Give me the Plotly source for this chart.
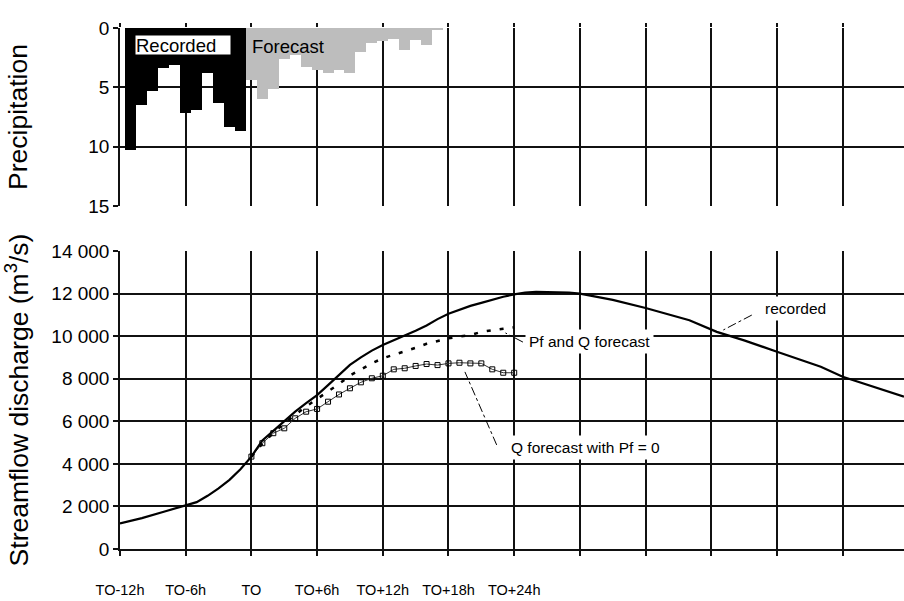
import plotly.graph_objects as go
from plotly.subplots import make_subplots

# ---------------- data ----------------
# precipitation (hours relative to T0, mm)
rec_p_hours = [-11, -10, -9, -8, -7, -6, -5, -4, -3, -2, -1]
rec_p_vals = [10.3, 6.5, 5.3, 3.4, 3.1, 7.2, 6.9, 3.8, 6.3, 8.3, 8.7]
fc_p_hours = list(range(0, 18))
fc_p_vals = [4.4, 6.0, 5.1, 2.6, 2.3, 3.3, 3.5, 3.8, 3.5, 3.8, 2.0, 1.3, 1.1, 0.9, 1.85, 1.0, 1.4, 0.1]

# streamflow (m3/s)
rec_q_hours = [-12, -10, -8, -6, -5, -4, -3, -2, -1, 0, 1, 2, 3, 4, 5, 6, 7, 8, 9, 10,
               11, 12, 13, 14, 15, 16, 17, 18, 19, 20, 21, 22, 23, 24, 25, 26, 28, 29,
               30, 33, 36, 40, 42.5, 45, 48, 52, 54, 57, 59.6]
rec_q_vals = [1200, 1450, 1750, 2070, 2200, 2500, 2850, 3250, 3750, 4340, 5100, 5550, 6000,
              6450, 6850, 7230, 7700, 8170, 8650, 9000, 9320, 9580, 9800, 10000, 10250,
              10500, 10800, 11050, 11250, 11420, 11560, 11720, 11850, 11960, 12050, 12080,
              12080, 12050, 12000, 11700, 11320, 10750, 10200, 9800, 9270, 8560, 8090,
              7600, 7160]

pf_hours = list(range(0, 25))
pf_vals = [4340, 4950, 5450, 5900, 6300, 6700, 7050, 7400, 7750, 8150, 8450, 8720, 8960,
           9120, 9280, 9450, 9640, 9780, 9900, 9980, 10050, 10200, 10290, 10350, 10410]

q0_hours = list(range(0, 25))
q0_vals = [4340, 4970, 5440, 5670, 6140, 6450, 6580, 6920, 7260, 7550, 7830, 8020, 8140,
           8440, 8490, 8600, 8690, 8640, 8720, 8750, 8720, 8720, 8440, 8280, 8280]

x_label_vals = [-12, -6, 0, 6, 12, 18, 24]
x_label_text = ["TO-12h", "TO-6h", "TO", "TO+6h", "TO+12h", "TO+18h", "TO+24h"]
x_extra_grid = [30, 36, 42, 48, 54]
x_all_grid = x_label_vals + x_extra_grid
q_tick_vals = [0, 2000, 4000, 6000, 8000, 10000, 12000, 14000]
q_tick_text = ["0", "2 000", "4 000", "6 000", "8 000", "10 000", "12 000", "14 000"]
p_tick_vals = [0, 5, 10, 15]

# ---------------- figure ----------------
FONT = "Liberation Sans, Arial, sans-serif"
GRID = "#111111"
GW = 1.5

fig = make_subplots(rows=2, cols=1, shared_xaxes=False, vertical_spacing=0.0)

fig.add_trace(go.Bar(x=rec_p_hours, y=rec_p_vals, width=1, marker=dict(color="black", line=dict(width=0)),
                     showlegend=False), row=1, col=1)
fig.add_trace(go.Bar(x=fc_p_hours, y=fc_p_vals, width=1, marker=dict(color="#bdbdbd", line=dict(width=0)),
                     showlegend=False), row=1, col=1)

fig.add_trace(go.Scatter(x=q0_hours, y=q0_vals, mode="lines+markers",
                         line=dict(color="#333333", width=1),
                         marker=dict(symbol="square-open", size=5, color="black", line=dict(width=1)),
                         showlegend=False), row=2, col=1)
fig.add_trace(go.Scatter(x=pf_hours, y=pf_vals, mode="lines",
                         line=dict(color="black", width=2.5, dash="4px,9px"),
                         showlegend=False), row=2, col=1)
fig.add_trace(go.Scatter(x=rec_q_hours, y=rec_q_vals, mode="lines",
                         line=dict(color="black", width=2.2),
                         showlegend=False), row=2, col=1)

XR = [-12, 59.6]
fig.update_layout(
    width=904, height=601, autosize=False,
    margin=dict(l=120, r=0, t=28, b=52),
    paper_bgcolor="white", plot_bgcolor="white",
    bargap=0, barmode="overlay",
    xaxis=dict(domain=[0, 1], range=XR, side="top", tickvals=x_all_grid, showticklabels=False,
               ticks="outside", ticklen=4, tickcolor=GRID, tickwidth=GW, showgrid=True, gridcolor=GRID,
               gridwidth=GW, zeroline=False, showline=False, anchor="y"),
    yaxis=dict(domain=[0.6583, 1.0], range=[15, 0], tickvals=p_tick_vals, ticks="outside", ticklen=5,
               tickcolor=GRID, tickwidth=GW, showgrid=True, gridcolor=GRID, gridwidth=GW, zeroline=False,
               showline=True, linecolor=GRID, linewidth=GW,
               tickfont=dict(family=FONT, size=19, color="black"),
               title=dict(text="Precipitation", font=dict(family=FONT, size=26.5, color="black"), standoff=53),
               automargin=False, anchor="x"),
    xaxis2=dict(domain=[0, 1], range=XR, tickvals=x_label_vals, ticktext=x_label_text, tickangle=0,
                ticks="outside", ticklen=5, tickcolor=GRID, tickwidth=GW, showgrid=True, gridcolor=GRID,
                gridwidth=GW,
                minor=dict(tickvals=x_extra_grid, ticks="outside", ticklen=5, tickcolor=GRID, tickwidth=GW,
                           showgrid=True, gridcolor=GRID, gridwidth=GW),
                zeroline=False, showline=True, linecolor=GRID, linewidth=GW,
                tickfont=dict(family=FONT, size=14.5, color="black"), ticklabelstandoff=22,
                automargin=False, anchor="y2"),
    yaxis2=dict(domain=[0, 0.5720], range=[0, 14000], tickvals=q_tick_vals, ticktext=q_tick_text,
                ticks="outside", ticklen=5, tickcolor=GRID, tickwidth=GW, showgrid=True, gridcolor=GRID,
                gridwidth=GW, zeroline=False, showline=True, linecolor=GRID, linewidth=GW,
                tickfont=dict(family=FONT, size=19, color="black"),
                title=dict(text="Streamflow discharge (m<sup>3</sup>/s)",
                           font=dict(family=FONT, size=26.5, color="black"), standoff=17),
                automargin=False, anchor="x2"),
)

# labels
fig.add_annotation(x=-10.63, y=1.47, xref="x", yref="y", text="Recorded", showarrow=False,
                   xanchor="left", yanchor="middle", align="left", width=94, height=18,
                   bgcolor="white", borderpad=0, font=dict(family=FONT, size=18.5, color="black"))
fig.add_annotation(x=-0.1, y=1.56, xref="x", yref="y", text="Forecast", showarrow=False,
                   xanchor="left", yanchor="middle", font=dict(family=FONT, size=18.5, color="black"))
fig.add_annotation(x=25.0, y=9725, xref="x2", yref="y2", text="Pf and Q forecast", showarrow=False,
                   xanchor="left", yanchor="middle", bgcolor="white", borderpad=3,
                   font=dict(family=FONT, size=15.5, color="black"))
fig.add_annotation(x=23.3, y=4790, xref="x2", yref="y2", text="Q forecast with Pf = 0", showarrow=False,
                   xanchor="left", yanchor="middle", bgcolor="white", borderpad=3,
                   font=dict(family=FONT, size=15.5, color="black"))
fig.add_annotation(x=46.55, y=11275, xref="x2", yref="y2", text="recorded", showarrow=False,
                   xanchor="left", yanchor="middle", bgcolor="white", borderpad=3,
                   font=dict(family=FONT, size=15.5, color="black"))

# leader lines
for (x0, y0, x1, y1) in [(45.7, 10990, 43.1, 10290), (24.8, 9720, 23.2, 10150), (22.4, 4890, 19.5, 8320)]:
    fig.add_shape(type="line", xref="x2", yref="y2", x0=x0, y0=y0, x1=x1, y1=y1,
                  line=dict(color="black", width=1, dash="dashdot"))

fig.write_html("out.html")
